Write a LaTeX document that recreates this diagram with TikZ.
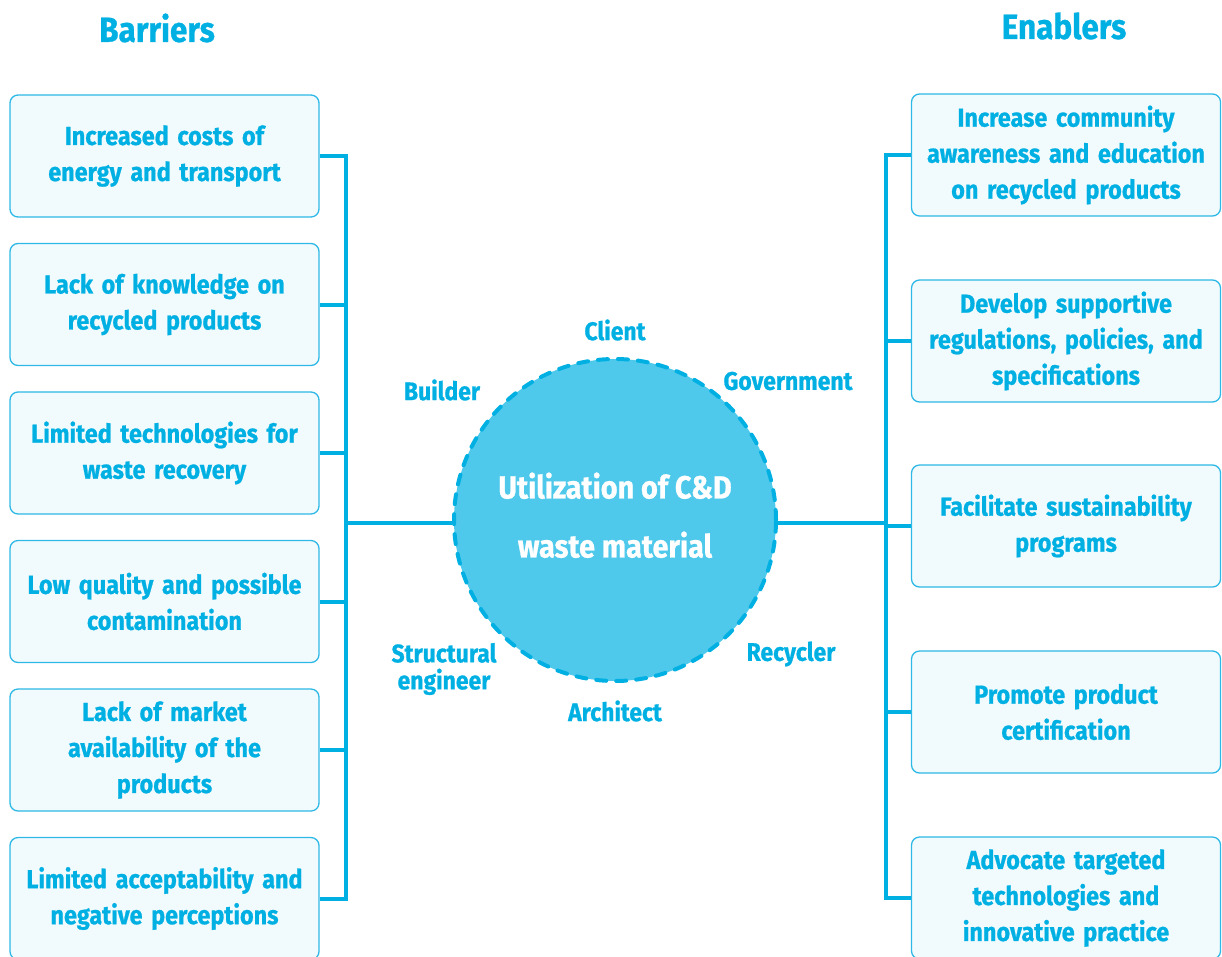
\documentclass[tikz,border=0pt]{standalone}
\usepackage{fontspec}
\setmainfont{Fira Sans}[FakeStretch=0.9, BoldFeatures={FakeBold=0.8}]
\definecolor{cdblue}{HTML}{00B0E3}
\definecolor{hubfill}{HTML}{4EC9EB}
\definecolor{boxfill}{HTML}{F1FAFD}
\definecolor{boxline}{HTML}{2DB8E6}
\tikzset{
	card/.style={draw=boxline, fill=boxfill, line width=1.3pt, rounded corners=8pt,
		minimum width=309pt, minimum height=122pt, text width=300pt, align=center,
		text=cdblue, font=\bfseries\fontsize{26}{36}\selectfont},
	actor/.style={text=cdblue, align=center, font=\bfseries\fontsize{25.5}{27}\selectfont},
	heading/.style={text=cdblue, font=\bfseries\fontsize{35}{40}\selectfont},
	link/.style={draw=cdblue, line width=4pt, line join=miter}
}
\begin{document}
\begin{tikzpicture}[x=1pt, y=-1pt]
		\useasboundingbox (0,0) rectangle (1222,956);

		\node[heading] (barriers) at (157,28) {Barriers};
		\node[heading] (enablers) at (1064,26) {Enablers};

		% barriers
		\node[card] (b1) at (164.5,156) {Increased costs of\\energy and transport};
		\node[card] (b2) at (164.5,304.5) {Lack of knowledge on\\recycled products};
		\node[card] (b3) at (164.5,453) {Limited technologies for\\waste recovery};
		\node[card] (b4) at (164.5,601.5) {Low quality and possible\\contamination};
		\node[card] (b5) at (164.5,750) {Lack of market\\availability of the\\products};
		\node[card] (b6) at (164.5,898.5) {Limited acceptability and\\negative perceptions};

		% enablers
		\node[card] (e1) at (1066,155) {Increase community\\awareness and education\\on recycled products};
		\node[card] (e2) at (1066,341) {Develop supportive\\regulations, policies, and\\specifications};
		\node[card] (e3) at (1066,526) {Facilitate sustainability\\programs};
		\node[card] (e4) at (1066,712) {Promote product\\certification};
		\node[card] (e5) at (1066,898) {Advocate targeted\\technologies and\\innovative practice};

		% hub
		\node[circle, fill=hubfill, draw=cdblue, line width=4pt, line cap=round,
			dash pattern=on 10pt off 10pt, minimum size=322pt, text=white, align=center,
			text depth=10pt, font=\bfseries\fontsize{32}{59}\selectfont] (hub) at (615,520)
			{Utilization of C\&D\\waste material};

		\node[actor] (client) at (615,330) {Client};
		\node[actor] (gov) at (788,381) {Government};
		\node[actor] (builder) at (442,390) {Builder};
		\node[actor] (struct) at (444,669) {Structural\\engineer};
		\node[actor] (recycler) at (791,654) {Recycler};
		\node[actor] (architect) at (615,711) {Architect};

		\coordinate (lt) at (346,523);
		\coordinate (rt) at (886,523);

		\draw[link] (b1.east) -| (b6.east -| lt) -- (b6.east);
		\foreach \i in {2,...,5}
			\draw[link] (b\i.east) -- (b\i.east -| lt);
		\draw[link] (lt) -- (lt -| hub.west);

		\draw[link] (e1.west) -| (e5.west -| rt) -- (e5.west);
		\foreach \i in {2,...,4}
			\draw[link] (e\i.west) -- (e\i.west -| rt);
		\draw[link] (rt) -- (rt -| hub.east);
	\end{tikzpicture}
\end{document}
